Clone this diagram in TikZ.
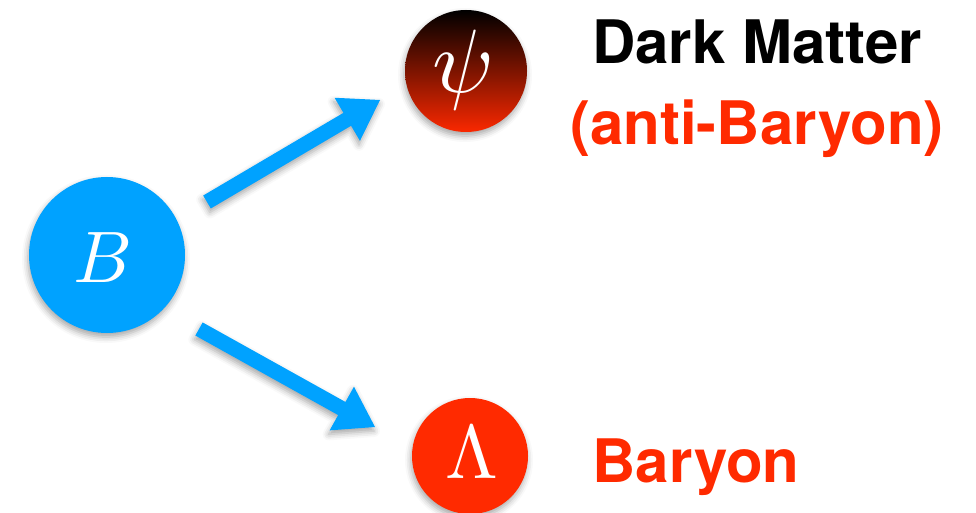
\documentclass[tikz,border=0pt]{standalone}
\usepackage{fontspec}
\newfontfamily\heros{TeX Gyre Heros}
\usetikzlibrary{calc,shadows.blur}

\definecolor{skyblue}{RGB}{0,162,255}
\definecolor{flame}{RGB}{255,42,0}
\definecolor{ember}{RGB}{250,40,0}

% Broad block arrow from tail #2 to tip #3
\newcommand\fatarrow[3][]{%
  \coordinate (fa-b) at ($(#3)!38pt!(#2)$);
  \path[arrowfill,#1]
    ($(#2)!7.5pt!90:(#3)$) -- ($(fa-b)!7.5pt!-90:(#2)$) --
    ($(fa-b)!25pt!-90:(#2)$) -- (#3) -- ($(fa-b)!25pt!90:(#2)$) --
    ($(fa-b)!7.5pt!90:(#2)$) -- ($(#2)!7.5pt!-90:(#3)$) -- cycle;}

\begin{document}
\begin{tikzpicture}[x=1pt,y=-1pt,
  softshadow/.style={blur shadow={shadow xshift=-1pt, shadow yshift=-4pt,
      shadow blur radius=6pt, shadow opacity=35}},
  ball/.style={circle, inner sep=0pt, softshadow},
  symbol/.style={text=white, inner sep=0pt},
  arrowfill/.style={fill=skyblue, softshadow},
  caption/.style={font=\heros\bfseries\fontsize{60}{60}\selectfont,
      anchor=base, inner sep=0pt}]
\useasboundingbox (0,0) rectangle (976,513);

% particles
\node[ball, fill=skyblue, minimum size=156pt] (B) at (107,255) {};
\node[ball, top color=black, bottom color=ember, minimum size=122pt] (psi) at (466,71) {};
\node[ball, fill=flame, minimum size=116pt] (L) at (470,456) {};
\node[symbol, scale=7.3] (Bsym) at ($(B.center)+(-4,3)$) {$B$};
\node[symbol, scale=9.0] (psisym) at ($(psi.center)+(-3,-1)$) {$\psi$};
\node[symbol, scale=7.6] (Lsym) at ($(L.center)+(2,-3)$) {$\Lambda$};

% decay arrows
\coordinate (a1t) at ($(B.center)+(100,-53)$);
\coordinate (a1h) at ($(psi.center)+(-86,29)$);
\coordinate (a2t) at ($(B.center)+(92,74)$);
\coordinate (a2h) at ($(L.center)+(-95,-29)$);
\fatarrow{a1t}{a1h}
\fatarrow{a2t}{a2h}

% captions
\node[caption, text=black] (dm) at (757,64) {Dark Matter};
\node[caption, text=flame] (anti) at (757,145) {(anti-Baryon)};
\node[caption, text=flame] (bar) at (696,482) {Baryon};
\end{tikzpicture}
\end{document}
